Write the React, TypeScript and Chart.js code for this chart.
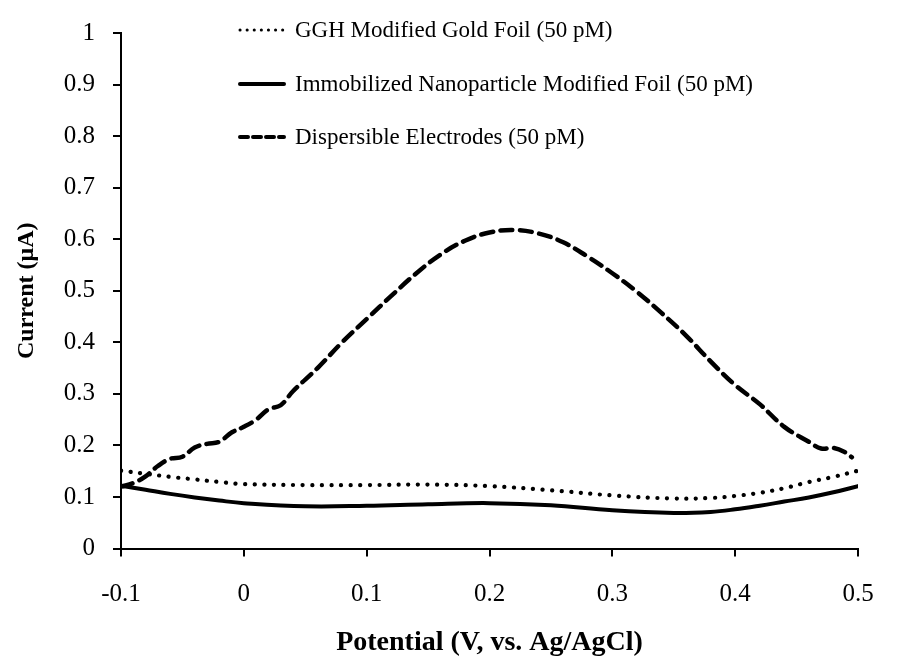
import React, { useEffect, useRef } from "react";
import { Chart, registerables } from "chart.js";

Chart.register(...registerables);

const gghX = [-0.1, -0.08, -0.06, -0.04, -0.02, 0, 0.05, 0.1, 0.15, 0.2, 0.25, 0.3, 0.35, 0.38, 0.4, 0.42, 0.44, 0.46, 0.48, 0.5];
const gghY = [0.151, 0.145, 0.139, 0.134, 0.129, 0.125, 0.123, 0.123, 0.124, 0.121, 0.113, 0.103, 0.097, 0.098, 0.102, 0.108, 0.117, 0.129, 0.139, 0.151];

const immX = [-0.1, -0.08, -0.06, -0.04, -0.02, 0, 0.05, 0.1, 0.15, 0.2, 0.25, 0.3, 0.35, 0.38, 0.4, 0.42, 0.44, 0.46, 0.48, 0.5];
const immY = [0.122, 0.114, 0.106, 0.099, 0.093, 0.088, 0.082, 0.083, 0.086, 0.088, 0.084, 0.074, 0.069, 0.071, 0.076, 0.083, 0.091, 0.099, 0.109, 0.121];

const dispX = [-0.1, -0.09, -0.08, -0.07, -0.06, -0.05, -0.04, -0.03, -0.02, -0.01, 0, 0.01, 0.02, 0.03, 0.04, 0.06, 0.08, 0.1, 0.12, 0.14, 0.16, 0.18, 0.2, 0.22, 0.24, 0.26, 0.28, 0.3, 0.32, 0.34, 0.36, 0.38, 0.4, 0.42, 0.44, 0.46, 0.47, 0.48, 0.49, 0.495];
const dispY = [0.12, 0.127, 0.14, 0.16, 0.174, 0.178, 0.196, 0.203, 0.207, 0.225, 0.236, 0.25, 0.27, 0.278, 0.305, 0.35, 0.4, 0.445, 0.49, 0.533, 0.57, 0.597, 0.613, 0.618, 0.611, 0.594, 0.566, 0.534, 0.498, 0.457, 0.413, 0.363, 0.317, 0.28, 0.236, 0.207, 0.194, 0.195, 0.186, 0.177];

const seriesLabels = [
  "GGH Modified Gold Foil (50 pM)",
  "Immobilized Nanoparticle Modified Foil (50 pM)",
  "Dispersible Electrodes (50 pM)",
];

const xTitle = "Potential (V, vs. Ag/AgCl)";
const yTitle = "Current (\u03bcA)";

const FONT = "'Liberation Serif', 'Times New Roman', serif";

const toPts = (xs: number[], ys: number[]) => xs.map((x, i) => ({ x, y: ys[i] }));

const dashStyles = [
  { dash: [0.1, 9.5], width: 4.2, legendDash: [0.1, 7], legendWidth: 3 },
  { dash: [], width: 4, legendDash: [], legendWidth: 4 },
  { dash: [12, 7.5], width: 4.5, legendDash: [8, 5], legendWidth: 4 },
];

const legendPlugin = {
  id: "customLegend",
  afterDraw(chart: any) {
    const ctx = chart.ctx;
    const ys = [30, 84, 137];
    ctx.save();
    seriesLabels.forEach((label, i) => {
      const st = dashStyles[i];
      ctx.beginPath();
      ctx.setLineDash(st.legendDash);
      ctx.lineCap = "round";
      ctx.lineWidth = st.legendWidth;
      ctx.strokeStyle = "#000";
      ctx.moveTo(240, ys[i]);
      ctx.lineTo(284, ys[i]);
      ctx.stroke();
      ctx.setLineDash([]);
      ctx.fillStyle = "#000";
      ctx.font = "23px " + FONT;
      ctx.textBaseline = "middle";
      ctx.textAlign = "left";
      ctx.fillText(label, 295, ys[i] + 1);
    });
    ctx.restore();
  },
};

export default function App() {
  const ref = useRef<HTMLCanvasElement>(null);
  useEffect(() => {
    if (!ref.current) return;
    const fmt = (v: any) => {
      const n = Math.round(Number(v) * 10) / 10;
      return String(n);
    };
    const chart = new Chart(ref.current, {
      type: "line",
      data: {
        datasets: [
          { label: seriesLabels[0], data: toPts(gghX, gghY) },
          { label: seriesLabels[1], data: toPts(immX, immY) },
          { label: seriesLabels[2], data: toPts(dispX, dispY) },
        ].map((d, i) => ({
          ...d,
          borderColor: "#000",
          backgroundColor: "#000",
          borderWidth: dashStyles[i].width,
          borderDash: dashStyles[i].dash,
          borderCapStyle: "round" as const,
          pointRadius: 0,
          tension: 0.4,
          fill: false,
        })),
      },
      options: {
        animation: false,
        responsive: false,
        layout: { padding: { left: 0, top: 26, right: 42, bottom: 0 } },
        plugins: { legend: { display: false }, tooltip: { enabled: false } },
        scales: {
          x: {
            type: "linear",
            min: -0.1,
            max: 0.5,
            afterFit: (s: any) => { s.height = 108.5; },
            ticks: { stepSize: 0.1, callback: fmt, color: "#000", font: { family: FONT, size: 25 }, padding: 23, maxRotation: 0 },
            grid: { drawOnChartArea: false, drawTicks: true, tickLength: 8, color: "#000", lineWidth: 2 },
            border: { display: true, color: "#000", width: 2 },
            title: { display: true, text: xTitle, color: "#000", font: { family: FONT, size: 28, weight: "bold", lineHeight: 1 }, padding: { top: 0, bottom: 0 } },
          },
          y: {
            type: "linear",
            min: 0,
            max: 1,
            afterFit: (s: any) => { s.width = 121; },
            ticks: { stepSize: 0.1, callback: fmt, color: "#000", font: { family: FONT, size: 25 }, padding: 18 },
            grid: { drawOnChartArea: false, drawTicks: true, tickLength: 8, color: "#000", lineWidth: 2 },
            border: { display: true, color: "#000", width: 2 },
            title: { display: true, text: yTitle, color: "#000", font: { family: FONT, size: 24, weight: "bold" }, padding: { top: 12, bottom: 0 } },
          },
        },
      },
      plugins: [legendPlugin],
    });
    return () => chart.destroy();
  }, []);
  return (
    <div style={{ position: "absolute", left: 0, top: 0, width: 900, height: 657, background: "#fff" }}>
      <canvas ref={ref} width={900} height={657} style={{ width: 900, height: 657, display: "block" }} />
    </div>
  );
}
